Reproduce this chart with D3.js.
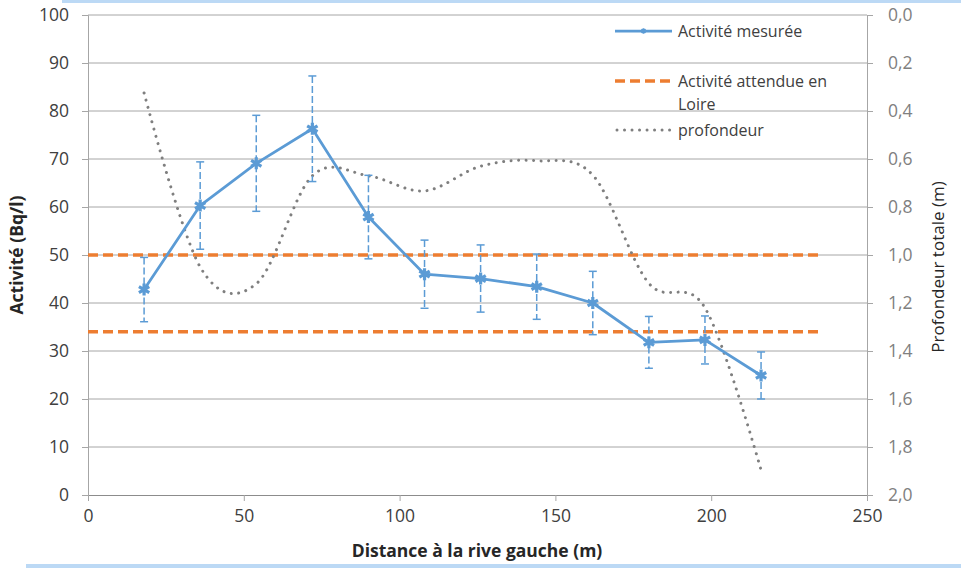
<!DOCTYPE html>
<html>
<head>
<meta charset="utf-8">
<script src="https://cdn.jsdelivr.net/npm/d3@7"></script>
<style>
  html, body { margin: 0; padding: 0; background: #ffffff; }
  svg { display: block; font-family: "Open Sans", "Liberation Sans", sans-serif; }
</style>
</head>
<body>
<svg id="chart" width="961" height="568"></svg>
<script>
// Points de mesure le long du transect (distance à la rive gauche, m)
const distances = [18, 36, 54, 72, 90, 108, 126, 144, 162, 180, 198, 216];
// Activité mesurée (Bq/l) et incertitude associée
const activite = [42.8, 60.3, 69.1, 76.3, 57.9, 46.0, 45.1, 43.4, 40.0, 31.8, 32.3, 24.9];
const incertitude = [6.7, 9.1, 10.0, 11.0, 8.7, 7.1, 7.0, 6.8, 6.6, 5.4, 5.0, 4.9];
// Profondeur totale (m) aux mêmes points
const profondeur = [0.325, 1.05, 1.12, 0.67, 0.67, 0.733, 0.63, 0.607, 0.667, 1.118, 1.22, 1.896];
// Bornes de l'activité attendue en Loire (Bq/l), tracées de 0 à 235 m
const attenduBornes = [50, 34];
const attenduEtendue = [0, 235];
// Graduations
const ticksX = [0, 50, 100, 150, 200, 250];
const ticksGauche = [0, 10, 20, 30, 40, 50, 60, 70, 80, 90, 100];
const ticksDroite = [0, 0.2, 0.4, 0.6, 0.8, 1.0, 1.2, 1.4, 1.6, 1.8, 2.0];
// Légende
const legendeLabels = [["Activité mesurée"], ["Activité attendue en", "Loire"], ["profondeur"]];

const svg = d3.select("#chart");
const W = 961, H = 568;
const plot = { left: 88, right: 867, top: 15, bottom: 495 };

const bleu = "#5b9bd5", orange = "#ed7d31", gris = "#7f7f7f";

const x = d3.scaleLinear().domain([0, 250]).range([plot.left, plot.right]);
const yG = d3.scaleLinear().domain([0, 100]).range([plot.bottom, plot.top]);
const yD = d3.scaleLinear().domain([0, 2]).range([plot.top, plot.bottom]);

// Bandeaux bleu clair en haut et en bas de la page
svg.append("rect").attr("x", 62).attr("y", 0).attr("width", W - 62).attr("height", 3).attr("fill", "#bcd9f5");
svg.append("rect").attr("x", 26).attr("y", 564).attr("width", W - 26).attr("height", 4).attr("fill", "#bcd9f5");

// Quadrillage horizontal
svg.append("g")
  .selectAll("line")
  .data(ticksGauche.filter(d => d > 0))
  .join("line")
  .attr("x1", plot.left).attr("x2", plot.right)
  .attr("y1", d => yG(d)).attr("y2", d => yG(d))
  .attr("stroke", "#a6a6a6").attr("stroke-width", 1);

const styleTicks = (sel, couleur) => sel.selectAll(".tick text")
  .attr("fill", couleur).style("font-size", "17.5px").style("font-family", "'Open Sans', sans-serif");

// Axe gauche
const axeG = svg.append("g")
  .attr("transform", `translate(${plot.left},0)`)
  .call(d3.axisLeft(yG).tickValues(ticksGauche).tickSize(6).tickPadding(13).tickFormat(d3.format("d")));
axeG.select(".domain").attr("stroke", "#a6a6a6");
axeG.selectAll(".tick line").attr("stroke", "#a6a6a6");
styleTicks(axeG, "#404040");

// Axe droit
const fmtDroite = d => d3.format(".1f")(d).replace(".", ",");
const axeD = svg.append("g")
  .attr("transform", `translate(${plot.right},0)`)
  .call(d3.axisRight(yD).tickValues(ticksDroite).tickSize(6).tickPadding(15).tickFormat(fmtDroite));
axeD.select(".domain").attr("stroke", "#a6a6a6");
axeD.selectAll(".tick line").attr("stroke", "#a6a6a6");
styleTicks(axeD, "#808080");

// Axe des distances
const axeX = svg.append("g")
  .attr("transform", `translate(0,${plot.bottom})`)
  .call(d3.axisBottom(x).tickValues(ticksX).tickSize(6).tickPadding(9).tickFormat(d3.format("d")));
axeX.select(".domain").attr("stroke", "#8c8c8c");
axeX.selectAll(".tick line").attr("stroke", "#a6a6a6");
styleTicks(axeX, "#404040");

// Activité attendue en Loire
svg.append("g")
  .selectAll("line")
  .data(attenduBornes)
  .join("line")
  .attr("x1", x(attenduEtendue[0])).attr("x2", x(attenduEtendue[1]))
  .attr("y1", d => yG(d)).attr("y2", d => yG(d))
  .attr("stroke", orange).attr("stroke-width", 3.5).attr("stroke-dasharray", "10,5");

// Profondeur (courbe lissée en pointillés)
const donneesProf = distances.map((d, i) => [d, profondeur[i]]);
svg.append("path")
  .datum(donneesProf)
  .attr("fill", "none")
  .attr("stroke", gris).attr("stroke-width", 3)
  .attr("stroke-linecap", "round").attr("stroke-dasharray", "0.01,7.5")
  .attr("d", d3.line().x(d => x(d[0])).y(d => yD(d[1])).curve(d3.curveCatmullRom.alpha(0)));

// Barres d'incertitude
const donneesAct = distances.map((d, i) => ({ x: d, y: activite[i], e: incertitude[i] }));
const barres = svg.append("g").selectAll("g").data(donneesAct).join("g");
barres.append("line")
  .attr("x1", d => x(d.x)).attr("x2", d => x(d.x))
  .attr("y1", d => yG(d.y + d.e)).attr("y2", d => yG(d.y - d.e))
  .attr("stroke", bleu).attr("stroke-width", 1.5).attr("stroke-dasharray", "7,3");
barres.selectAll("line.cap")
  .data(d => [d.y + d.e, d.y - d.e].map(v => ({ x: d.x, v })))
  .join("line")
  .attr("class", "cap")
  .attr("x1", d => x(d.x) - 4).attr("x2", d => x(d.x) + 4)
  .attr("y1", d => yG(d.v)).attr("y2", d => yG(d.v))
  .attr("stroke", bleu).attr("stroke-width", 1.5);

// Activité mesurée
svg.append("path")
  .datum(donneesAct)
  .attr("fill", "none").attr("stroke", bleu).attr("stroke-width", 2.75)
  .attr("stroke-linejoin", "round")
  .attr("d", d3.line().x(d => x(d.x)).y(d => yG(d.y)));

const etoile = d3.symbol().type(d3.symbolAsterisk).size(100);
svg.append("g").selectAll("path").data(donneesAct).join("path")
  .attr("transform", d => `translate(${x(d.x)},${yG(d.y)})`)
  .attr("d", etoile)
  .attr("fill", "none").attr("stroke", bleu).attr("stroke-width", 3.2);

// Titres des axes
svg.append("text")
  .attr("transform", `translate(23,${(plot.top + plot.bottom) / 2}) rotate(-90)`)
  .attr("text-anchor", "middle")
  .attr("fill", "#262626").style("font-size", "17.5px").style("font-weight", "bold")
  .text("Activité (Bq/l)");

svg.append("text")
  .attr("transform", `translate(944,${(plot.top + plot.bottom) / 2 + 12}) rotate(-90)`)
  .attr("text-anchor", "middle")
  .attr("fill", "#262626").style("font-size", "17px")
  .text("Profondeur totale (m)");

svg.append("text")
  .attr("x", 477)
  .attr("y", 557)
  .attr("text-anchor", "middle")
  .attr("fill", "#262626").style("font-size", "17.5px").style("font-weight", "bold")
  .text("Distance à la rive gauche (m)");

// Légende
const leg = svg.append("g").attr("transform", "translate(615,0)");
const legY = [31, 81, 130];
leg.append("line").attr("x1", 0).attr("x2", 57).attr("y1", legY[0]).attr("y2", legY[0])
  .attr("stroke", bleu).attr("stroke-width", 2.75);
leg.append("path").attr("transform", `translate(28.5,${legY[0]})`)
  .attr("d", d3.symbol().type(d3.symbolAsterisk).size(20))
  .attr("fill", "none").attr("stroke", bleu).attr("stroke-width", 2);
leg.append("line").attr("x1", 0).attr("x2", 57).attr("y1", legY[1]).attr("y2", legY[1])
  .attr("stroke", orange).attr("stroke-width", 3.5).attr("stroke-dasharray", "10,5");
leg.append("line").attr("x1", 2).attr("x2", 57).attr("y1", legY[2]).attr("y2", legY[2])
  .attr("stroke", gris).attr("stroke-width", 3).attr("stroke-linecap", "round").attr("stroke-dasharray", "0.01,7.5");

legendeLabels.forEach((lignes, i) => {
  const t = leg.append("text").attr("x", 63).attr("y", legY[i] + 5.5)
    .attr("fill", "#404040").style("font-size", "16px");
  lignes.forEach((l, j) => {
    t.append("tspan").attr("x", 63).attr("dy", j === 0 ? 0 : 23).text(l);
  });
});
</script>
</body>
</html>
